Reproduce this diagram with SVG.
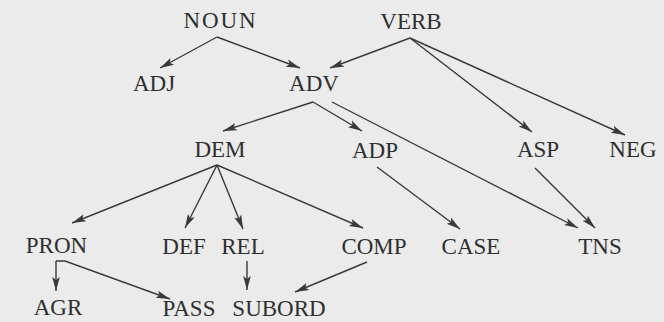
<svg xmlns="http://www.w3.org/2000/svg" width="664" height="322" viewBox="0 0 664 322">
  <style>
    .lbl { font-family: "Liberation Serif", "Times New Roman", serif; font-size: 23px; fill: #2f2f2f; text-anchor: middle; }
    .edge { fill: none; stroke: #3a3a3a; stroke-width: 1.4; marker-end: url(#tip); }
  </style>
  <defs>
    <!-- slim filled arrowhead shared by every edge -->
    <marker id="tip" markerUnits="userSpaceOnUse" markerWidth="15" markerHeight="10" viewBox="0 0 15 10" refX="14" refY="5" orient="auto">
      <path d="M0,1.2 L14,5 L0,8.8 L3,5 Z" fill="#3a3a3a"/>
    </marker>
  </defs>
  <rect width="664" height="322" fill="#ebebeb"/>

  <g id="connectors">
    <path class="edge" d="M217,37 L160,68"/>
    <path class="edge" d="M217,37 L300,68"/>
    <path class="edge" d="M410,38 L330,68"/>
    <path class="edge" d="M410,38 L532,132"/>
    <path class="edge" d="M410,38 L625,135"/>
    <path class="edge" d="M313,102 L223,131"/>
    <path class="edge" d="M313,102 L362,131"/>
    <path class="edge" d="M332,102 L578,228"/>
    <path class="edge" d="M377,167 L460,229"/>
    <path class="edge" d="M535,168 L595,228"/>
    <path class="edge" d="M217,165 L72,223"/>
    <path class="edge" d="M217,165 L185,228"/>
    <path class="edge" d="M217,165 L243,229"/>
    <path class="edge" d="M217,165 L363,228"/>
    <path class="edge" d="M56,261 L56,291"/>
    <path class="edge" d="M56,261 L65,261 L170,299"/>
    <path class="edge" d="M247,261 L247,290"/>
    <path class="edge" d="M367,262 L295,292"/>
  </g>

  <g id="noun"><text class="lbl" x="219.5" y="28" textLength="72" lengthAdjust="spacing">NOUN</text></g>
  <g id="verb"><text class="lbl" x="411" y="29">VERB</text></g>
  <g id="adj"><text class="lbl" x="154" y="91">ADJ</text></g>
  <g id="adv"><text class="lbl" x="314" y="91">ADV</text></g>
  <g id="dem"><text class="lbl" x="220" y="157">DEM</text></g>
  <g id="adp"><text class="lbl" x="375" y="158">ADP</text></g>
  <g id="asp"><text class="lbl" x="538" y="157">ASP</text></g>
  <g id="neg"><text class="lbl" x="633" y="157">NEG</text></g>
  <g id="pron"><text class="lbl" x="56.5" y="253">PRON</text></g>
  <g id="def"><text class="lbl" x="184" y="254">DEF</text></g>
  <g id="rel"><text class="lbl" x="243" y="254">REL</text></g>
  <g id="comp"><text class="lbl" x="374" y="254">COMP</text></g>
  <g id="case"><text class="lbl" x="471" y="254">CASE</text></g>
  <g id="tns"><text class="lbl" x="600" y="254">TNS</text></g>
  <g id="agr"><text class="lbl" x="58" y="315">AGR</text></g>
  <g id="pass"><text class="lbl" x="189" y="316">PASS</text></g>
  <g id="subord"><text class="lbl" x="279" y="316">SUBORD</text></g>
</svg>
